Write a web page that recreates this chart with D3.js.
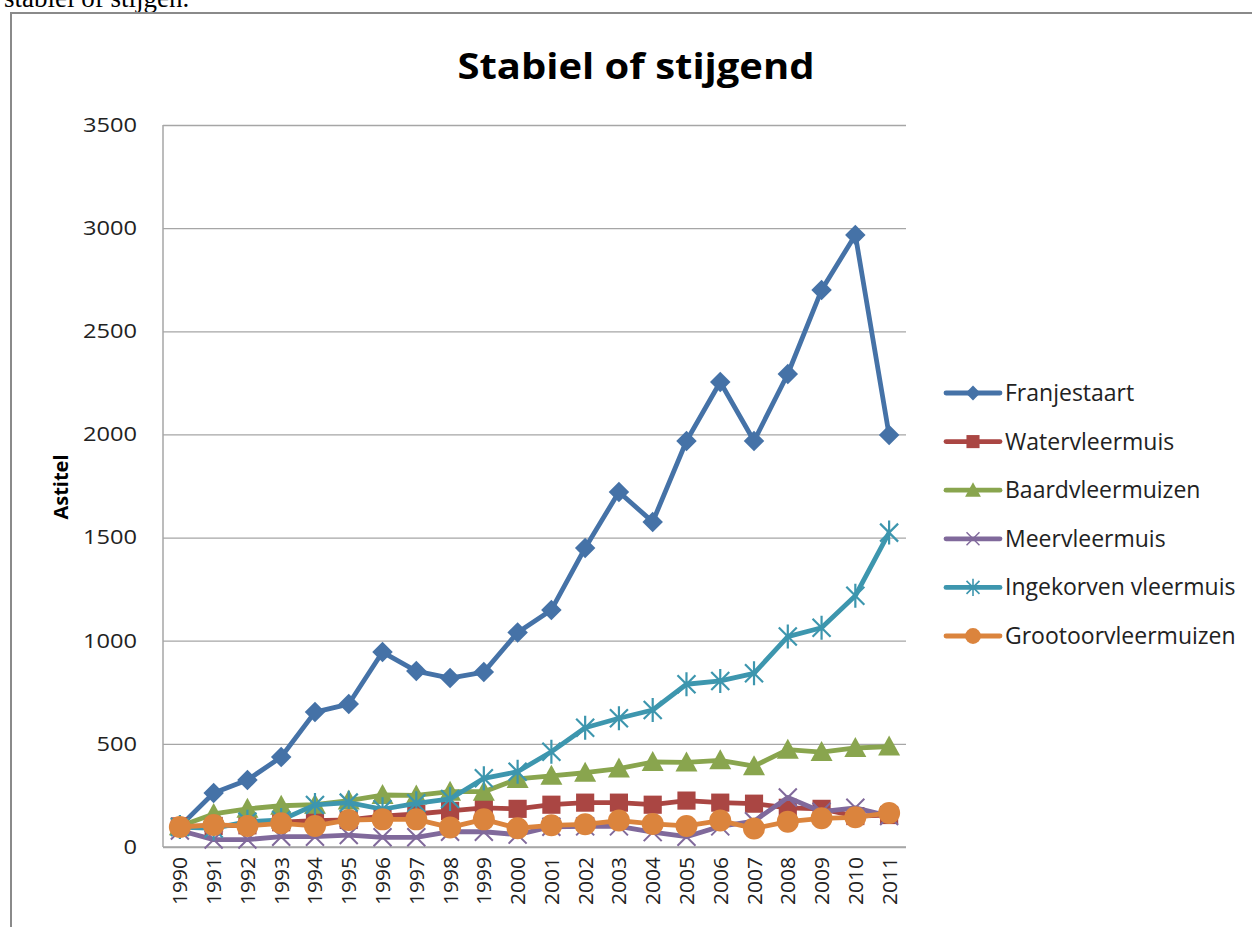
<!DOCTYPE html>
<html><head><meta charset="utf-8">
<script src="https://cdn.jsdelivr.net/npm/d3@7"></script>
<style>html,body{margin:0;padding:0;background:#fff;overflow:hidden}</style>
</head><body>
<svg id="c" width="1252" height="927"></svg>
<script>
const years = ["1990","1991","1992","1993","1994","1995","1996","1997","1998","1999","2000","2001","2002","2003","2004","2005","2006","2007","2008","2009","2010","2011"];
const franjestaart = [100,262,325,436,654,693,945,853,819,848,1040,1149,1450,1721,1576,1968,2254,1968,2293,2700,2967,1997];
const watervleermuis = [100,102,105,120,128,131,150,160,175,190,185,205,215,215,205,225,215,210,190,185,150,155];
const baardvleermuizen = [100,160,185,200,205,225,252,250,268,268,330,345,360,380,412,410,420,392,472,460,480,487];
const meervleermuis = [80,36,36,50,50,58,47,47,74,74,60,98,100,100,72,50,100,125,240,171,190,150];
const ingekorven = [97,90,123,131,204,215,183,212,233,333,365,462,578,624,664,789,805,842,1020,1063,1218,1524];
const grootoor = [97,107,102,115,102,131,134,134,95,134,91,105,110,128,112,102,128,90,123,139,144,165];
const yTicks = [0,500,1000,1500,2000,2500,3000,3500];
const seriesNames = ["Franjestaart","Watervleermuis","Baardvleermuizen","Meervleermuis","Ingekorven vleermuis","Grootoorvleermuizen"];
const seriesValues = [franjestaart, watervleermuis, baardvleermuizen, meervleermuis, ingekorven, grootoor];
const colors = ["#4572A7","#AA4643","#89A54E","#80699B","#3D96AE","#DB843D"];
const markers = ["diamond","square","triangle","x","star","circle"];

const svg = d3.select("#c");
// page text and frame
svg.append("text").attr("x", 4).attr("y", 7).attr("font-family","Liberation Serif, Times New Roman, serif")
  .attr("font-size", 27).text("stabiel of stijgen.");
svg.append("path").attr("d","M11,927 V13 H1252").attr("fill","none").attr("stroke","#8a8a8a").attr("stroke-width",2);

const L = 163, R = 906, T = 125, B = 847;
const x = d3.scaleBand().domain(years).range([L, R]);
const y = d3.scaleLinear().domain([0,3500]).range([B, T]);

// title
svg.append("text").attr("x", 636).attr("y", 79).attr("text-anchor","middle")
  .attr("font-family","Open Sans, sans-serif").attr("font-weight","bold").attr("font-size", 35)
  .attr("textLength", 357).attr("lengthAdjust","spacingAndGlyphs").text("Stabiel of stijgend");

// gridlines + y axis
const yAxis = d3.axisLeft(y).tickValues(yTicks).tickSize(-(R-L)).tickPadding(26).tickFormat(d3.format("d"));
const gy = svg.append("g").attr("transform",`translate(${L},0)`).call(yAxis);
gy.select(".domain").remove();
gy.selectAll(".tick line").attr("stroke","#a6a6a6").attr("stroke-width",1.3);
gy.selectAll(".tick text").attr("font-family","Open Sans, sans-serif").attr("font-size",20).attr("fill","#222")
  .attr("textLength", d => String(d).length * 13.5).attr("lengthAdjust","spacingAndGlyphs");

svg.append("line").attr("x1",L).attr("x2",L).attr("y1",T).attr("y2",B).attr("stroke","#a6a6a6").attr("stroke-width",1.5);
svg.append("line").attr("x1",L).attr("x2",R).attr("y1",B).attr("y2",B).attr("stroke","#a6a6a6").attr("stroke-width",1.5);

// x axis labels
const xAxis = d3.axisBottom(x).tickSize(0).tickPadding(0);
const gx = svg.append("g").attr("transform",`translate(0,${B})`).call(xAxis);
gx.select(".domain").remove();
gx.selectAll(".tick text").attr("font-family","Open Sans, sans-serif").attr("font-size",20).attr("fill","#222")
  .attr("text-anchor","end").attr("dy",null).attr("y",0)
  .attr("textLength",48).attr("lengthAdjust","spacingAndGlyphs")
  .attr("transform","translate(7.5,10) rotate(-90)");

// y axis title
svg.append("text").attr("transform","translate(68,487) rotate(-90)").attr("text-anchor","middle")
  .attr("font-family","Open Sans, sans-serif").attr("font-weight","bold").attr("font-size",19)
  .attr("textLength",65).attr("lengthAdjust","spacingAndGlyphs").text("Astitel");

function drawMarker(g, type, color) {
  if (type === "diamond") g.append("path").attr("d", d3.symbol(d3.symbolSquare, 210)()).attr("transform","rotate(45)").attr("fill", color);
  else if (type === "square") g.append("path").attr("d", d3.symbol(d3.symbolSquare, 330)()).attr("fill", color);
  else if (type === "triangle") g.append("path").attr("d","M0,-11 L11,9 L-11,9 Z").attr("fill", color);
  else if (type === "circle") g.append("circle").attr("r", 11).attr("fill", color);
  else if (type === "x") g.append("path").attr("d","M-9,-9 L9,9 M-9,9 L9,-9").attr("stroke", color).attr("stroke-width",2);
  else if (type === "star") g.append("path").attr("d","M-9,-9 L9,9 M-9,9 L9,-9 M0,-12 V12").attr("stroke", color).attr("stroke-width",2.2);
}

const line = d3.line().x((d,i) => x(years[i]) + x.bandwidth()/2).y(d => y(d));
seriesValues.forEach((vals, s) => {
  const g = svg.append("g");
  g.append("path").datum(vals).attr("d", line).attr("fill","none").attr("stroke", colors[s])
    .attr("stroke-width", 4.8).attr("stroke-linejoin","round");
  vals.forEach((v, i) => {
    const m = g.append("g").attr("transform", `translate(${x(years[i]) + x.bandwidth()/2},${y(v)})`);
    drawMarker(m, markers[s], colors[s]);
  });
});

// legend
const leg = svg.append("g");
seriesNames.forEach((n, s) => {
  const yy = 393 + s * 48.6;
  leg.append("line").attr("x1",946).attr("x2",1000).attr("y1",yy).attr("y2",yy).attr("stroke",colors[s]).attr("stroke-width",4.8).attr("stroke-linecap","round");
  const m = leg.append("g").attr("transform",`translate(973,${yy}) scale(0.72)`);
  drawMarker(m, markers[s], colors[s]);
  leg.append("text").attr("x",1005).attr("y",yy+8).attr("font-family","Open Sans, sans-serif").attr("font-size",23).attr("fill","#222").text(n);
});
</script>
</body></html>
